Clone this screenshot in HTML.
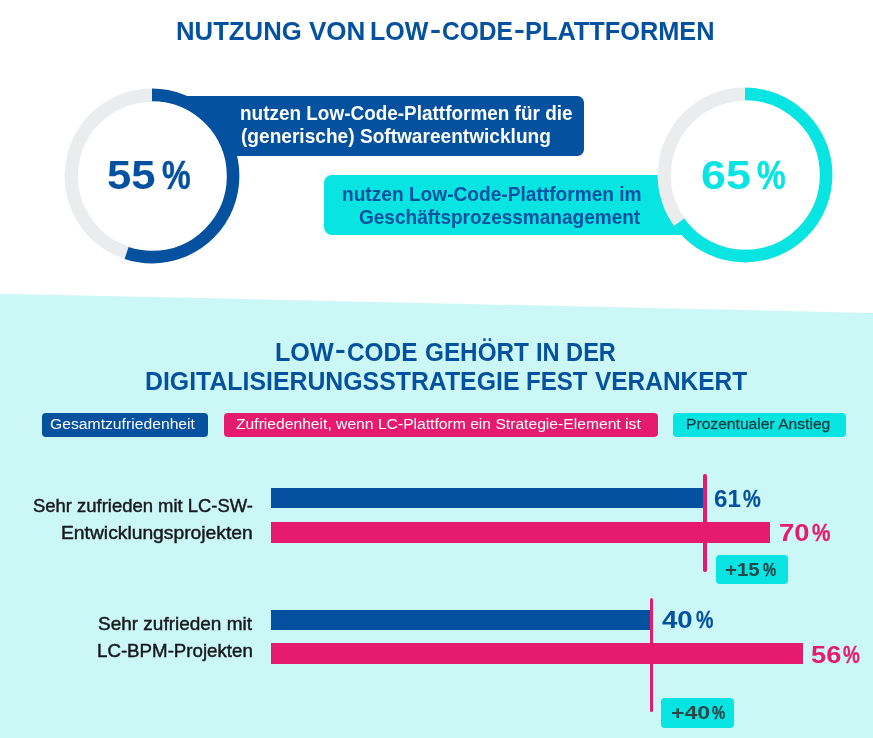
<!DOCTYPE html>
<html lang="de"><head><meta charset="utf-8"><title>Nutzung von Low-Code-Plattformen</title>
<style>
html,body{margin:0;padding:0;background:#fff}
#page{position:relative;width:873px;height:738px;overflow:hidden;background:#fff;font-family:'Liberation Sans', Arial, Helvetica, sans-serif}
.t{position:absolute;white-space:pre;margin:0;transform-origin:0 50%}
.box{position:absolute}
.ring{position:absolute;display:block}
#lower{position:absolute;left:0;top:0;width:873px;height:738px;background:#ccf7f7;clip-path:polygon(0 293.7px,873px 312.9px,873px 738px,0 738px)}
</style></head><body>
<div id="page">
<div id="lower"></div>
<div class="box" style="left:151.7px;top:96.4px;width:432.8px;height:59.3px;background:#04519f;border-radius:0 6.5px 6.5px 0"></div>
<div class="box" style="left:323.8px;top:175px;width:421.8px;height:60px;background:#07e4e1;border-radius:8px 0 0 8px"></div>
<svg class="ring" style="left:61.75px;top:85.50px" width="180" height="180" viewBox="0 0 180 180"><circle cx="90" cy="90" r="75.30000000000001" fill="#fff"/><circle cx="90" cy="90" r="80.75" fill="none" stroke="#ebecee" stroke-width="13.3" stroke-dasharray="233.39 507.37" transform="rotate(104.40 90 90)"/><circle cx="90" cy="90" r="81.10000000000001" fill="none" stroke="#04519f" stroke-width="12.6" stroke-dasharray="280.26 509.57" transform="rotate(-90 90 90)"/></svg>
<svg class="ring" style="left:655.30px;top:85.40px" width="180" height="180" viewBox="0 0 180 180"><circle cx="90" cy="90" r="75.30000000000001" fill="#fff"/><circle cx="90" cy="90" r="80.75" fill="none" stroke="#ebecee" stroke-width="13.3" stroke-dasharray="182.65 507.37" transform="rotate(140.40 90 90)"/><circle cx="90" cy="90" r="81.10000000000001" fill="none" stroke="#07e4e1" stroke-width="12.6" stroke-dasharray="331.22 509.57" transform="rotate(-90 90 90)"/></svg>
<div class="box" style="left:41.6px;top:413.4px;width:166.8px;height:24px;background:#04519f;border-radius:4px"></div>
<div class="box" style="left:223.7px;top:413.4px;width:434.6px;height:24px;background:#e61b70;border-radius:4px"></div>
<div class="box" style="left:672.8px;top:413.4px;width:173.2px;height:23.6px;background:#07e4e1;border-radius:4px"></div>

<div class="box" style="left:270.9px;top:488.1px;width:433px;height:20.4px;background:#04519f"></div>
<div class="box" style="left:270.9px;top:522.2px;width:499.3px;height:20.4px;background:#e61b70"></div>
<div class="box" style="left:703.2px;top:473.9px;width:3.4px;height:97.9px;background:#e61b70;border-radius:1.7px"></div>
<div class="box" style="left:715.8px;top:554.7px;width:72.4px;height:29.3px;background:#07e4e1;border-radius:4px"></div>

<div class="box" style="left:270.9px;top:609.8px;width:380px;height:20.3px;background:#04519f"></div>
<div class="box" style="left:270.9px;top:643.4px;width:532.6px;height:20.4px;background:#e61b70"></div>
<div class="box" style="left:649.6px;top:598.1px;width:3.4px;height:113.6px;background:#e61b70;border-radius:1.7px"></div>
<div class="box" style="left:661.2px;top:698.3px;width:72.7px;height:29.5px;background:#07e4e1;border-radius:4px"></div>
<div class="t" style="left:176.48px;top:16px;font-size:25.4px;line-height:30px;font-weight:700;color:#04519f;transform:scaleX(1.0128);">NUTZUNG</div>
<div class="t" style="left:308.54px;top:16px;font-size:25.4px;line-height:30px;font-weight:700;color:#04519f;transform:scaleX(1.0254);">VON</div>
<div class="t" style="left:370.42px;top:16px;font-size:25.4px;line-height:30px;font-weight:700;color:#04519f;transform:scaleX(0.9853);">LOW</div>
<div class="t" style="left:430.19px;top:14px;font-size:25.4px;line-height:30px;font-weight:700;color:#04519f;transform:scaleX(1.3077);">-</div>
<div class="t" style="left:441.73px;top:16px;font-size:25.4px;line-height:30px;font-weight:700;color:#04519f;transform:scaleX(0.9678);">CODE</div>
<div class="t" style="left:513.72px;top:14px;font-size:25.4px;line-height:30px;font-weight:700;color:#04519f;transform:scaleX(1.2769);">-</div>
<div class="t" style="left:524.60px;top:16px;font-size:25.4px;line-height:30px;font-weight:700;color:#04519f;transform:scaleX(0.9979);">PLATTFORMEN</div>
<div class="t" style="left:107.34px;top:151px;font-size:40px;line-height:48px;font-weight:700;color:#04519f;transform:scaleX(1.0911);">55</div>
<div class="t" style="left:161.80px;top:151px;font-size:40px;line-height:48px;font-weight:700;color:#04519f;transform:scaleX(0.8059);-webkit-text-stroke:0.5px currentColor;">%</div>
<div class="t" style="left:700.70px;top:151px;font-size:40px;line-height:48px;font-weight:700;color:#07e4e1;transform:scaleX(1.1195);">65</div>
<div class="t" style="left:756.80px;top:151px;font-size:40px;line-height:48px;font-weight:700;color:#07e4e1;transform:scaleX(0.8059);-webkit-text-stroke:0.5px currentColor;">%</div>
<div class="t" style="left:239.60px;top:101px;font-size:19.8px;line-height:24px;font-weight:700;color:#fff;transform:scaleX(0.9575);">nutzen Low-Code-Plattformen für die</div>
<div class="t" style="left:240.53px;top:124px;font-size:19.8px;line-height:24px;font-weight:700;color:#fff;transform:scaleX(0.9656);">(generische) Softwareentwicklung</div>
<div class="t" style="left:341.89px;top:182px;font-size:19.8px;line-height:24px;font-weight:700;color:#04519f;transform:scaleX(0.9668);">nutzen Low-Code-Plattformen im</div>
<div class="t" style="left:359.38px;top:205px;font-size:19.8px;line-height:24px;font-weight:700;color:#04519f;transform:scaleX(0.9616);">Geschäftsprozessmanagement</div>
<div class="t" style="left:274.98px;top:337px;font-size:24.9px;line-height:30px;font-weight:700;color:#04519f;transform:scaleX(1.0106);">LOW</div>
<div class="t" style="left:334.83px;top:334px;font-size:24.9px;line-height:30px;font-weight:700;color:#04519f;transform:scaleX(1.2889);">-</div>
<div class="t" style="left:346.52px;top:337px;font-size:24.9px;line-height:30px;font-weight:700;color:#04519f;transform:scaleX(0.9786);">CODE</div>
<div class="t" style="left:424.82px;top:337px;font-size:24.9px;line-height:30px;font-weight:700;color:#04519f;transform:scaleX(0.9758);">GEHÖRT</div>
<div class="t" style="left:535.58px;top:337px;font-size:24.9px;line-height:30px;font-weight:700;color:#04519f;transform:scaleX(0.9471);">IN DER</div>
<div class="t" style="left:144.50px;top:366px;font-size:24.9px;line-height:30px;font-weight:700;color:#04519f;transform:scaleX(0.9980);">DIGITALISIERUNGSSTRATEGIE</div>
<div class="t" style="left:525.75px;top:366px;font-size:24.9px;line-height:30px;font-weight:700;color:#04519f;transform:scaleX(0.9677);">FEST</div>
<div class="t" style="left:594.55px;top:366px;font-size:24.9px;line-height:30px;font-weight:700;color:#04519f;transform:scaleX(0.9819);">VERANKERT</div>
<div class="t" style="left:49.92px;top:415px;font-size:15.2px;line-height:18px;font-weight:400;color:#fff;transform:scaleX(1.0344);">Gesamtzufriedenheit</div>
<div class="t" style="left:236.18px;top:415px;font-size:15.2px;line-height:18px;font-weight:400;color:#fff;transform:scaleX(1.0311);">Zufriedenheit, wenn LC-Plattform ein Strategie-Element ist</div>
<div class="t" style="left:685.67px;top:415px;font-size:15.2px;line-height:18px;font-weight:400;color:#173f42;transform:scaleX(1.0296);-webkit-text-stroke:0.3px currentColor;">Prozentualer Anstieg</div>
<div class="t" style="left:32.50px;top:495px;font-size:18.5px;line-height:22px;font-weight:400;color:#16181d;transform:scaleX(0.9966);-webkit-text-stroke:0.45px currentColor;">Sehr zufrieden mit LC-SW-</div>
<div class="t" style="left:61.10px;top:522px;font-size:18.5px;line-height:22px;font-weight:400;color:#16181d;transform:scaleX(1.0418);-webkit-text-stroke:0.45px currentColor;">Entwicklungsprojekten</div>
<div class="t" style="left:97.89px;top:613px;font-size:18.5px;line-height:22px;font-weight:400;color:#16181d;transform:scaleX(1.0257);-webkit-text-stroke:0.45px currentColor;">Sehr zufrieden mit</div>
<div class="t" style="left:97.14px;top:640px;font-size:18.5px;line-height:22px;font-weight:400;color:#16181d;transform:scaleX(1.0105);-webkit-text-stroke:0.45px currentColor;">LC-BPM-Projekten</div>
<div class="t" style="left:713.56px;top:484px;font-size:24.5px;line-height:29px;font-weight:700;color:#04519f;transform:scaleX(0.9885);">61</div>
<div class="t" style="left:743.19px;top:484px;font-size:24.5px;line-height:29px;font-weight:700;color:#04519f;transform:scaleX(0.8145);-webkit-text-stroke:0.3px currentColor;">%</div>
<div class="t" style="left:779.18px;top:518px;font-size:24.5px;line-height:29px;font-weight:700;color:#e61b70;transform:scaleX(1.1168);">70</div>
<div class="t" style="left:811.78px;top:518px;font-size:24.5px;line-height:29px;font-weight:700;color:#e61b70;transform:scaleX(0.8482);-webkit-text-stroke:0.3px currentColor;">%</div>
<div class="t" style="left:661.62px;top:605px;font-size:24.5px;line-height:29px;font-weight:700;color:#04519f;transform:scaleX(1.1269);">40</div>
<div class="t" style="left:695.60px;top:605px;font-size:24.5px;line-height:29px;font-weight:700;color:#04519f;transform:scaleX(0.8000);-webkit-text-stroke:0.3px currentColor;">%</div>
<div class="t" style="left:811.27px;top:640px;font-size:24.5px;line-height:29px;font-weight:700;color:#e61b70;transform:scaleX(1.1107);">56</div>
<div class="t" style="left:843.01px;top:640px;font-size:24.5px;line-height:29px;font-weight:700;color:#e61b70;transform:scaleX(0.7711);-webkit-text-stroke:0.3px currentColor;">%</div>
<div class="t" style="left:725.26px;top:559px;font-size:18.2px;line-height:22px;font-weight:700;color:#25474a;transform:scaleX(1.1261);">+15</div>
<div class="t" style="left:762.60px;top:559px;font-size:18.2px;line-height:22px;font-weight:700;color:#25474a;transform:scaleX(0.8127);-webkit-text-stroke:0.3px currentColor;">%</div>
<div class="t" style="left:670.85px;top:702px;font-size:18.2px;line-height:22px;font-weight:700;color:#25474a;transform:scaleX(1.2712);">+40</div>
<div class="t" style="left:712.00px;top:702px;font-size:18.2px;line-height:22px;font-weight:700;color:#25474a;transform:scaleX(0.8127);-webkit-text-stroke:0.3px currentColor;">%</div>
</div>
</body></html>
